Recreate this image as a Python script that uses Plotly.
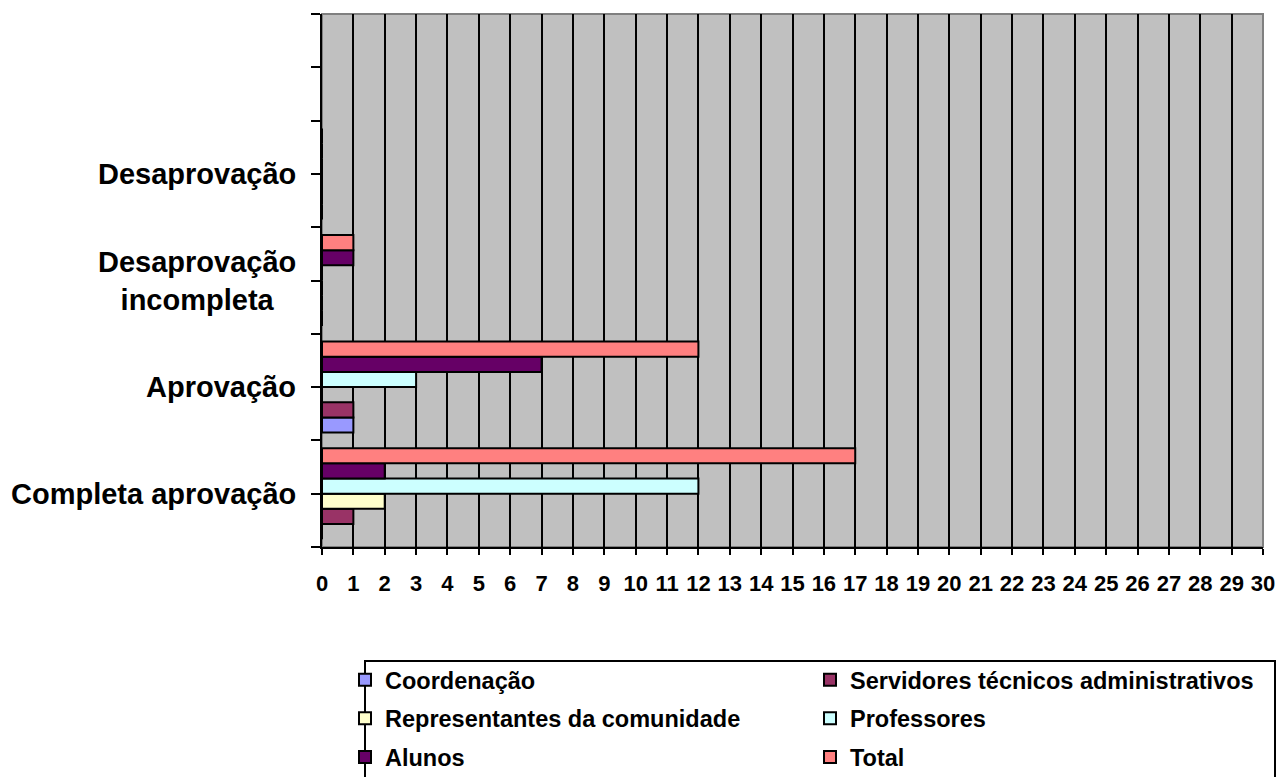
import plotly.graph_objects as go

# Response categories, bottom to top (the last one is an empty slot)
categories = ["Completa aprovação", "Aprovação", "Desaprovação<br>incompleta", "Desaprovação", ""]

# Counts per group of respondents
coordenacao = [0, 1, 0, 0, None]
servidores = [1, 1, 0, 0, None]
representantes = [2, 0, 0, 0, None]
professores = [12, 3, 0, 0, None]
alunos = [2, 7, 1, 0, None]
total = [17, 12, 1, 0, None]

series_names = [
    "Coordenação",
    "Servidores técnicos administrativos",
    "Representantes da comunidade",
    "Professores",
    "Alunos",
    "Total",
]
series_values = [coordenacao, servidores, representantes, professores, alunos, total]
series_colors = ["#9999FF", "#993366", "#FFFFCC", "#CCFFFF", "#660066", "#FF8080"]
# left legend column / right legend column
series_legend = ["legend", "legend2", "legend", "legend2", "legend", "legend2"]

x_ticks = list(range(0, 31))

W, H = 1278, 777
ML, MR, MT, MB = 322, 15, 14, 230
PW, PH = W - ML - MR, H - MT - MB

FONT = "Liberation Sans, Arial, sans-serif"

ypos = list(range(len(categories)))

fig = go.Figure()
for name, vals, col, lg in zip(series_names, series_values, series_colors, series_legend):
    fig.add_trace(go.Bar(
        x=vals, y=ypos, orientation="h", name=name,
        marker=dict(color=col, line=dict(color="black", width=2)),
        legend=lg, legendgroup=name,
    ))

# category labels, centred lines, right-aligned against the axis
for yv, lab in zip(ypos, categories):
    if lab:
        fig.add_annotation(
            x=0, xref="paper", y=yv, yref="y", text=lab, showarrow=False,
            xanchor="right", yanchor="middle", align="center", xshift=-24,
            font=dict(family=FONT, size=29, color="black", weight="bold"),
        )

def px_to_paper_x(px):
    return (px - ML) / PW

def px_to_paper_y(py):
    return (H - MB - py) / PH

# plot-area frame and legend box
fig.add_shape(type="rect", xref="paper", yref="paper", x0=0, x1=1, y0=0, y1=1,
              line=dict(color="#808080", width=2), layer="below")
fig.add_shape(type="rect", xref="paper", yref="paper",
              x0=px_to_paper_x(365), x1=px_to_paper_x(1275),
              y0=px_to_paper_y(661), y1=px_to_paper_y(800),
              line=dict(color="black", width=2), fillcolor="rgba(0,0,0,0)")

half_ticks = [i * 0.5 - 0.5 for i in range(2 * len(categories) + 1)]

legend_common = dict(
    font=dict(family=FONT, size=23.5, color="black", weight="bold"),
    bgcolor="rgba(0,0,0,0)", borderwidth=0,
    xanchor="left", yanchor="top", orientation="v",
    tracegroupgap=5, itemclick=False,
)

fig.update_layout(
    width=W, height=H,
    margin=dict(l=ML, r=MR, t=MT, b=MB, autoexpand=False),
    paper_bgcolor="white",
    plot_bgcolor="#C0C0C0",
    barmode="group", bargap=0.146, bargroupgap=0,
    showlegend=True,
    legend=dict(x=px_to_paper_x(345), y=px_to_paper_y(658), **legend_common),
    legend2=dict(x=px_to_paper_x(810), y=px_to_paper_y(658), **legend_common),
    xaxis=dict(
        range=[0, 30], tickvals=x_ticks, ticktext=[str(v) for v in x_ticks],
        showgrid=True, gridcolor="black", gridwidth=2,
        showline=True, linecolor="black", linewidth=2,
        ticks="outside", ticklen=6, tickwidth=2, tickcolor="black",
        ticklabelstandoff=10,
        tickfont=dict(family=FONT, size=22, color="black", weight="bold"),
        zeroline=False, fixedrange=True,
    ),
    yaxis=dict(
        range=[-0.5, len(categories) - 0.5],
        tickvals=half_ticks, showticklabels=False,
        showgrid=False, zeroline=False,
        showline=True, linecolor="black", linewidth=2,
        ticks="outside", ticklen=9, tickwidth=2, tickcolor="black",
        fixedrange=True,
    ),
)

fig.write_html("out.html")
